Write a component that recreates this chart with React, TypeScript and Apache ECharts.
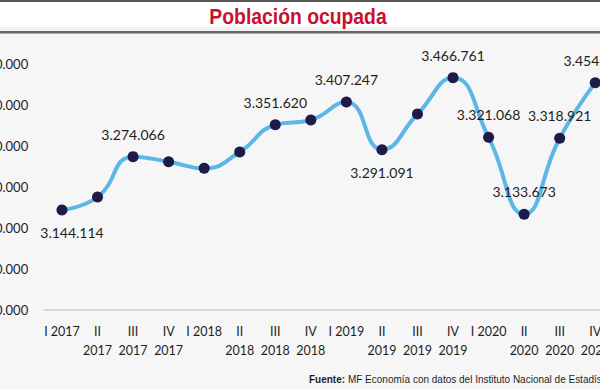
import React, { useEffect, useRef } from "react";
import * as echarts from "echarts";

const categories = [
  "I 2017", "II\n2017", "III\n2017", "IV\n2017",
  "I 2018", "II\n2018", "III\n2018", "IV\n2018",
  "I 2019", "II\n2019", "III\n2019", "IV\n2019",
  "I 2020", "II\n2020", "III\n2020", "IV\n2020",
];

const values = [
  3144114, 3175600, 3274066, 3261700,
  3245600, 3285400, 3351620, 3363400,
  3407247, 3291091, 3378000, 3466761,
  3321068, 3133673, 3318921, 3454450,
];

const yMin = 2900000;
const yMax = 3500000;
const yStep = 100000;

// which points carry a value label, and on which side
const labelSide: Record<number, string> = {
  0: "bottom", 2: "top", 6: "top", 8: "top", 9: "bottom",
  11: "top", 12: "top", 13: "top", 14: "top", 15: "top",
};

const titleText = "Población ocupada";
const sourceBold = "Fuente:";
const sourceText = " MF Economía con datos del Instituto Nacional de Estadística";

const fmt = (n: number) => String(Math.round(n)).replace(/\B(?=(\d{3})+(?!\d))/g, ".");

export default function App() {
  const ref = useRef<HTMLDivElement>(null);
  useEffect(() => {
    if (!ref.current) return;
    const chart = echarts.init(ref.current, undefined, { renderer: "svg" });
    const font = "Lato, 'Open Sans', sans-serif";
    const narrow = "'Liberation Sans', Arial, sans-serif";
    chart.setOption({
      animation: false,
      backgroundColor: "#f6f6f6",
      grid: {
        left: 44.2, top: 64, width: 568.8, height: 246,
        containLabel: false, outerBoundsMode: "none",
      },
      xAxis: {
        type: "category",
        data: categories,
        boundaryGap: true,
        axisLine: { show: true, lineStyle: { color: "#d9d9d9", width: 2 } },
        axisTick: { show: false },
        axisLabel: {
          interval: 0, margin: 12, color: "#1e1e1e", fontFamily: font,
          fontSize: 12.5, lineHeight: 19,
        },
      },
      yAxis: {
        type: "value",
        min: yMin, max: yMax, interval: yStep,
        axisLine: { show: false },
        axisTick: { show: false },
        splitLine: { show: false },
        axisLabel: {
          margin: 16, color: "#1e1e1e", fontFamily: font, fontSize: 13,
          formatter: (v: number) => fmt(v),
        },
      },
      graphic: [
        { type: "rect", shape: { x: 0, y: 0, width: 700, height: 32 }, style: { fill: "#ffffff" }, z: 10 },
        { type: "rect", shape: { x: 0, y: 0, width: 700, height: 2 }, style: { fill: "#555555" }, z: 11 },
        { type: "rect", shape: { x: 0, y: 27, width: 700, height: 4 }, style: { fill: "#f3f3f3" }, z: 11 },
        { type: "rect", shape: { x: 0, y: 31, width: 700, height: 2.5 }, style: { fill: "#666666" }, z: 11 },
        {
          type: "text", x: 298, y: 16, scaleX: 0.9, z: 12,
          style: {
            text: titleText, fill: "#c8102e", fontFamily: narrow,
            fontWeight: "bold", fontSize: 21.5, align: "center", verticalAlign: "middle",
          },
        },
        {
          type: "text", x: 309, y: 379, scaleX: 0.91, z: 12,
          style: {
            text: "{b|" + sourceBold + "}" + sourceText,
            fill: "#1e1e1e", fontFamily: narrow,
            fontSize: 11, align: "left", verticalAlign: "middle",
            rich: { b: { fontWeight: "bold", fontSize: 11, fontFamily: narrow, fill: "#1e1e1e" } },
          },
        },
      ],
      series: [
        {
          type: "line",
          data: values.map((v, i) => {
            const side = labelSide[i];
            return {
              value: v,
              label: side
                ? {
                    show: true, position: side, distance: 9,
                    offset: i === 0 ? [10, 0] : [0, 0],
                    formatter: fmt(v),
                  }
                : { show: false },
            };
          }),
          smooth: 0.5,
          symbol: "circle",
          symbolSize: 11,
          showAllSymbol: true,
          lineStyle: { color: "#5ab7e7", width: 4 },
          itemStyle: { color: "#1d1b47", borderWidth: 0 },
          label: { color: "#1e1e1e", fontFamily: font, fontSize: 14, lineHeight: 16 },
          emphasis: { disabled: true },
          z: 3,
        },
      ],
    });
    return () => chart.dispose();
  }, []);
  return (
    <div style={{ position: "absolute", left: 0, top: 0, width: 600, height: 389, overflow: "hidden", background: "#f6f6f6" }}>
      <div ref={ref} style={{ width: 620, height: 389 }} />
    </div>
  );
}
